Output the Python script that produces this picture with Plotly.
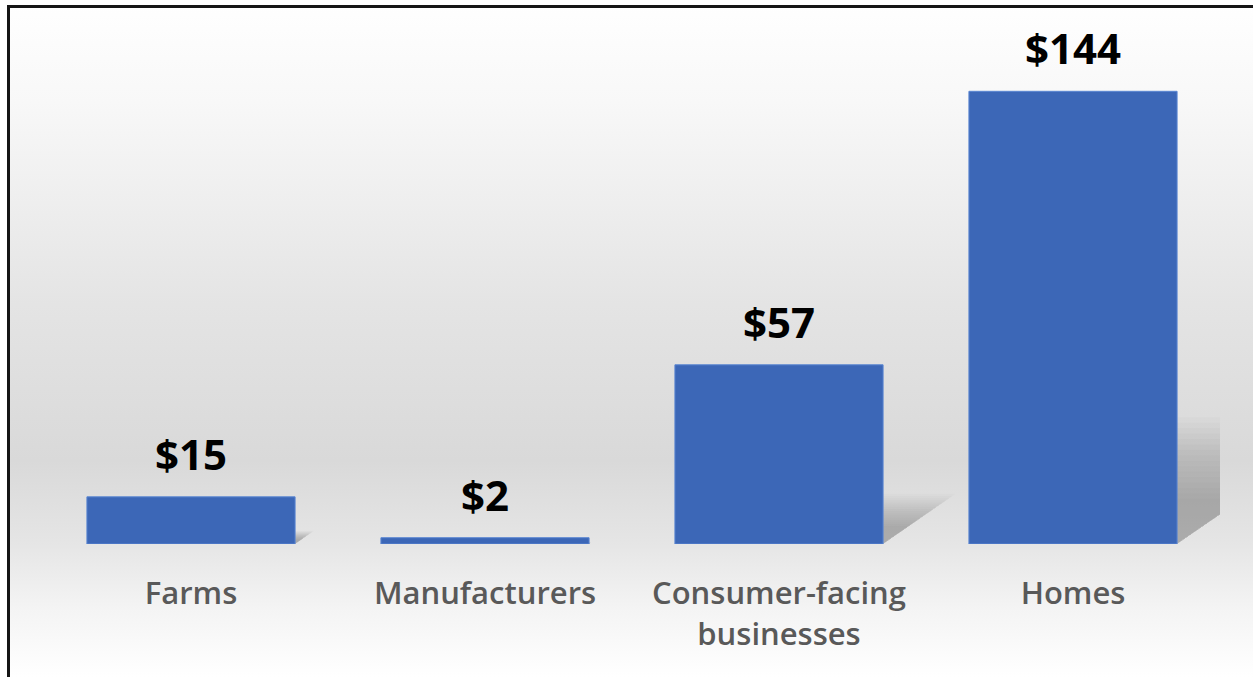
import base64
import plotly.graph_objects as go

# ---- data ----
categories = ["Farms", "Manufacturers", "Consumer-facing<br>businesses", "Homes"]
values = [15, 2, 57, 144]
value_labels = ["$15", "$2", "$57", "$144"]

# ---- layout geometry / style ----
W, H = 1253, 677
ML, MR, MT, MB = 44, 33, 41, 133
PW, PH = W - ML - MR, H - MT - MB
BAR_W = 0.708
YMAX = 160

svg = f"""<svg xmlns='http://www.w3.org/2000/svg' width='{W}' height='{H}' viewBox='0 0 {W} {H}' preserveAspectRatio='none'>
<defs><linearGradient id='g' x1='0' y1='0' x2='0' y2='1'>
<stop offset='0' stop-color='#ffffff'/>
<stop offset='0.15' stop-color='#f8f8f8'/>
<stop offset='0.45' stop-color='#e4e4e4'/>
<stop offset='0.68' stop-color='#d9d9d9'/>
<stop offset='0.80' stop-color='#e5e5e5'/>
<stop offset='0.90' stop-color='#f4f4f4'/>
<stop offset='1' stop-color='#ffffff'/>
</linearGradient></defs>
<rect x='0' y='0' width='{W}' height='{H}' fill='url(#g)'/>
<rect x='0' y='0' width='{W}' height='5' fill='#ffffff'/>
<rect x='0' y='0' width='7' height='{H}' fill='#ffffff'/>
<rect x='7' y='5' width='{W}' height='3' fill='#151515'/>
<rect x='7' y='5' width='3' height='{H}' fill='#151515'/>
</svg>"""
bg_src = "data:image/svg+xml;base64," + base64.b64encode(svg.encode()).decode()

fig = go.Figure()
fig.add_trace(go.Bar(
    x=list(range(len(values))), y=values, width=BAR_W,
    marker=dict(color="#3c67b7", line=dict(color="#5a86d2", width=1)),
    hoverinfo="skip", showlegend=False,
))

# perspective soft shadows (derived from values)
px_per_y = PH / YMAX
shear = 1.45 * px_per_y / (PW / len(values))  # x-units per y-unit of shadow height
shapes = []
n_layers = 16
for i, v in enumerate(values):
    for j in range(n_layers):
        k = 0.10 + 0.18 * j / (n_layers - 1)
        h = k * v
        dx = shear * h
        x0, x1 = i - BAR_W / 2, i + BAR_W / 2
        path = f"M {x0} 0 L {x1} 0 L {x1 + dx} {h} L {x0 + dx} {h} Z"
        shapes.append(dict(type="path", path=path, xref="x", yref="y",
                           fillcolor="rgba(0,0,0,0.017)", line=dict(width=0),
                           layer="below"))

annotations = []
for i, (v, t) in enumerate(zip(values, value_labels)):
    annotations.append(dict(x=i, y=v, xref="x", yref="y", text=f"<b>{t}</b>",
                            showarrow=False, yanchor="bottom", yshift=13,
                            font=dict(family="Open Sans", size=42, color="#000000")))

fig.update_layout(
    width=W, height=H,
    margin=dict(l=ML, r=MR, t=MT, b=MB, pad=0),
    paper_bgcolor="#ffffff", plot_bgcolor="rgba(0,0,0,0)",
    images=[dict(source=bg_src, xref="paper", yref="paper",
                 x=-ML / PW, y=1 + MT / PH, sizex=W / PW, sizey=H / PH,
                 xanchor="left", yanchor="top", sizing="stretch", layer="below")],
    shapes=shapes, annotations=annotations,
    xaxis=dict(range=[-0.5, len(values) - 0.5], tickmode="array",
               tickvals=list(range(len(values))), ticktext=categories,
               showgrid=False, zeroline=False, showline=False,
               ticks="outside", ticklen=22, tickcolor="rgba(0,0,0,0)",
               tickfont=dict(family="Open Sans", size=31, color="#595959", weight=600)),
    yaxis=dict(range=[0, YMAX], visible=False, showgrid=False, zeroline=False),
    showlegend=False,
)

fig.write_html("out.html", config={"displayModeBar": False},
               post_script="document.body.style.margin='0px';")
